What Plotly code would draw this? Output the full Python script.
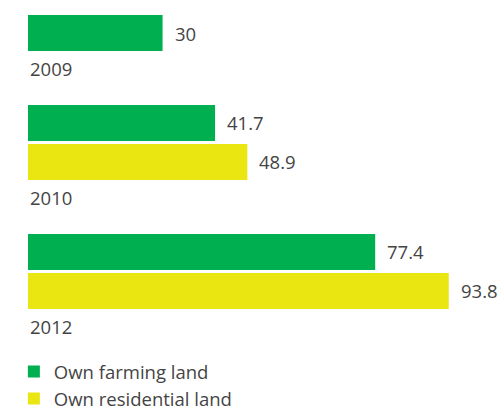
import plotly.graph_objects as go
from plotly.subplots import make_subplots

years = ["2009", "2010", "2012"]
series = ["Own farming land", "Own residential land"]
farming = [30, 41.7, 77.4]
residential = [None, 48.9, 93.8]
colors = ["#00B050", "#EAE612"]
text_color = "#444444"
font_family = "Open Sans, Noto Sans, sans-serif"
font_size = 18.5

domains = [[0.8726, 0.9672], [0.5595, 0.7488], [0.2464, 0.4357]]

fig = make_subplots(rows=3, cols=1)
values = [farming, residential]
annotations = []
for i, yr in enumerate(years):
    row = i + 1
    axn = "" if row == 1 else str(row)
    cats = [s for s, v in zip(series, values) if v[i] is not None]
    for j, (s, v) in enumerate(zip(series, values)):
        if v[i] is None:
            continue
        fig.add_trace(go.Bar(
            x=[v[i]], y=[s], orientation="h", name=s,
            marker=dict(color=colors[j], line=dict(width=0)),
            legendgroup=s, showlegend=(i == 1),
            hoverinfo="skip",
        ), row=row, col=1)
        annotations.append(dict(
            x=v[i], y=s, xref="x" + axn, yref="y" + axn,
            text=f"{v[i]:g}", showarrow=False, xanchor="left", yanchor="middle",
            xshift=10, font=dict(family=font_family, size=font_size, color=text_color),
        ))
    annotations.append(dict(
        x=0, y=0, xref="paper", yref="y" + axn + " domain",
        text=yr, showarrow=False, xanchor="left", yanchor="middle", yshift=-16,
        font=dict(family=font_family, size=font_size, color=text_color),
    ))
    fig.update_yaxes(domain=domains[i], type="category", categoryarray=cats,
                     autorange="reversed", visible=False, row=row, col=1)
    fig.update_xaxes(range=[0, 105], visible=False, row=row, col=1)

fig.update_layout(
    width=499, height=412,
    margin=dict(l=28, r=0, t=0, b=0, autoexpand=False),
    paper_bgcolor="white", plot_bgcolor="white",
    barmode="overlay", bargap=0.077,
    annotations=annotations,
    showlegend=True,
    legend=dict(x=-0.03, y=1 - 353 / 412, xanchor="left", yanchor="top",
                orientation="v", traceorder="normal",
                font=dict(family=font_family, size=font_size, color=text_color),
                itemwidth=30, tracegroupgap=0, bgcolor="rgba(0,0,0,0)"),
    font=dict(family=font_family, size=font_size, color=text_color),
)

fig.write_html("out.html", config={"displayModeBar": False},
               post_script="document.body.style.margin='0';document.body.style.padding='0';")
